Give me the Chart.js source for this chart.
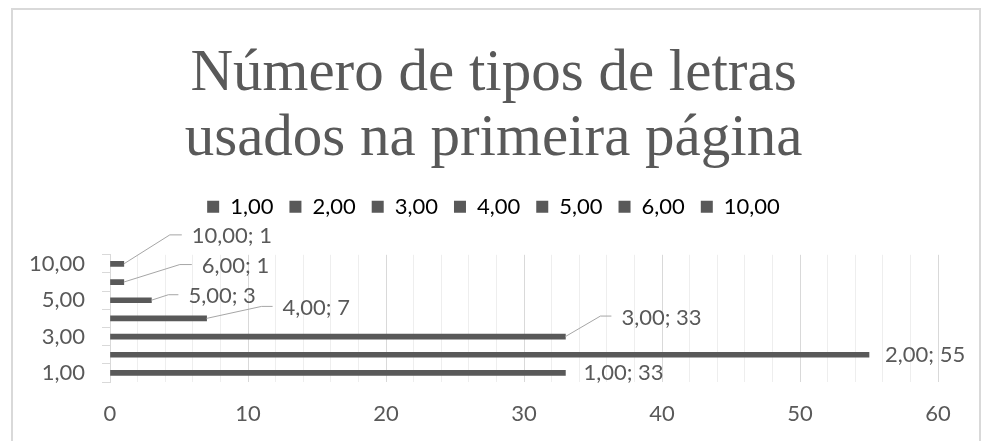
<!DOCTYPE html>
<html>
<head>
<meta charset="utf-8">
<script src="https://cdn.jsdelivr.net/npm/chart.js@4/dist/chart.umd.min.js"></script>
<style>
body { margin: 0; background: #fff; }
</style>
</head>
<body>
<canvas id="chart" width="987" height="441"></canvas>
<script>
var categories = ["1,00", "2,00", "3,00", "4,00", "5,00", "6,00", "10,00"];
var counts = [33, 55, 33, 7, 3, 1, 1];
var xTicks = [0, 10, 20, 30, 40, 50, 60];
var chartTitle = ["Número de tipos de letras", "usados na primeira página"];

var grey = "#595959";
var labelFont = { family: "Lato", size: 22 };

// where each data label sits, measured from the end of its bar (elbow of the leader line, then text start)
var labelSpots = [
	{ tx: 18 },
	{ tx: 16 },
	{ ex: 35, ey: -20.5, tx: 56 },
	{ ex: 55, ey: -12, tx: 76 },
	{ ex: 17, ey: -5.5, tx: 37 },
	{ ex: 56, ey: -17.5, tx: 78 },
	{ ex: 46, ey: -29, tx: 68 }
];

var frame = {
	id: "frame",
	beforeDraw: function (chart) {
		var c = chart.ctx;
		c.save();
		c.fillStyle = "#fff";
		c.fillRect(0, 0, chart.width, chart.height);
		c.strokeStyle = "#d9d9d9";
		c.lineWidth = 2;
		c.strokeRect(12, 9, 968, 450);
		c.restore();
	}
};

var dataLabels = {
	id: "dataLabels",
	afterDatasetsDraw: function (chart) {
		var c = chart.ctx;
		var bars = chart.getDatasetMeta(0).data;
		c.save();
		c.font = labelFont.size + "px " + labelFont.family;
		c.fillStyle = grey;
		c.textBaseline = "middle";
		c.textAlign = "left";
		c.strokeStyle = "#a6a6a6";
		c.lineWidth = 1;
		bars.forEach(function (bar, i) {
			var s = labelSpots[i];
			var x = bar.x, y = bar.y, ty = y;
			if (s.ex !== undefined) {
				c.beginPath();
				c.moveTo(x, y);
				c.lineTo(x + s.ex, y + s.ey);
				c.lineTo(x + s.tx - 10, y + s.ey);
				c.stroke();
				ty = y + s.ey + 1.5;
			}
			c.fillText(categories[i] + "; " + counts[i], x + s.tx, ty);
		});
		c.restore();
	}
};

var ctx = document.getElementById("chart").getContext("2d");
var chart = new Chart(ctx, {
	type: "bar",
	data: {
		labels: categories,
		datasets: [{
			data: counts,
			backgroundColor: grey,
			barThickness: 5
		}]
	},
	options: {
		indexAxis: "y",
		responsive: false,
		animation: false,
		devicePixelRatio: 1,
		layout: { padding: 0 },
		plugins: {
			title: {
				display: true,
				text: chartTitle,
				color: grey,
				font: { family: "Liberation Serif", size: 59, weight: "normal", lineHeight: 1.1 },
				padding: { top: 42, bottom: 8 }
			},
			legend: {
				display: true,
				onClick: null,
				labels: {
					color: grey,
					font: labelFont,
					boxWidth: 12,
					boxHeight: 12,
					padding: 16,
					generateLabels: function () {
						return categories.map(function (cat, i) {
							return { text: cat, fillStyle: grey, strokeStyle: grey, lineWidth: 0, hidden: false, index: i };
						});
					}
				}
			},
			tooltip: { enabled: false }
		},
		scales: {
			y: {
				position: "left",
				reverse: true,
				afterFit: function (s) { s.width = 110; },
				grid: { drawOnChartArea: false, tickLength: 8, color: "#d9d9d9", offset: true },
				border: { color: "#d9d9d9" },
				ticks: {
					autoSkip: false,
					padding: 17,
					color: grey,
					font: labelFont,
					callback: function (v, i) { return i % 2 === 0 ? categories[i] : ""; }
				}
			},
			x: {
				min: 0,
				max: 60,
				afterFit: function (s) { s.height = 59; },
				grid: {
					drawTicks: false,
					color: function (c) {
						return c.tick && xTicks.indexOf(c.tick.value) >= 0 ? "#d9d9d9" : "#eeeeee";
					}
				},
				border: { display: false },
				ticks: {
					stepSize: 2,
					autoSkip: false,
					maxRotation: 0,
					padding: 19,
					color: grey,
					font: labelFont,
					callback: function (v) { return xTicks.indexOf(v) >= 0 ? v : ""; }
				}
			},
			gapTop: {
				type: "linear",
				position: "top",
				afterFit: function (s) { s.height = 27; },
				grid: { display: false },
				border: { display: false },
				ticks: { display: false }
			},
			gapRight: {
				type: "linear",
				position: "right",
				afterFit: function (s) { s.width = 49; },
				grid: { display: false },
				border: { display: false },
				ticks: { display: false }
			}
		}
	},
	plugins: [frame, dataLabels]
});
</script>
</body>
</html>
